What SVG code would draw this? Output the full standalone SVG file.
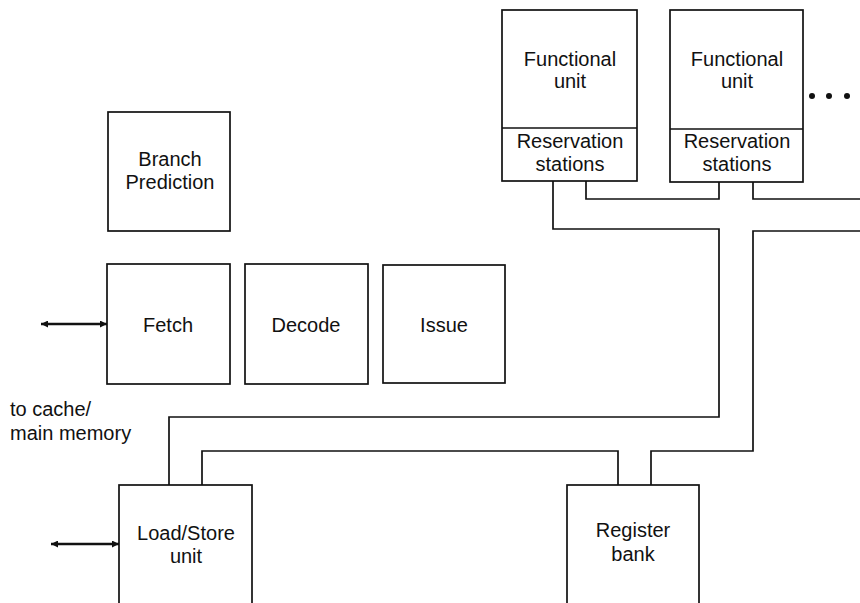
<svg xmlns="http://www.w3.org/2000/svg" width="860" height="603" viewBox="0 0 860 603">
<style>
  .box{fill:#fff;stroke:#111;stroke-width:1.7}
  .ln{fill:none;stroke:#111;stroke-width:1.7}
  .arr{fill:none;stroke:#111;stroke-width:2.4}
  text{font-family:"Liberation Sans",Arial,sans-serif;font-size:20px;fill:#111;text-anchor:middle}
  .l{text-anchor:start}
</style>
<defs>
  <marker id="ah" viewBox="0 0 10 10" refX="10" refY="5" markerWidth="10" markerHeight="7" markerUnits="userSpaceOnUse" orient="auto-start-reverse">
    <path d="M0,0 L10,5 L0,10 z" fill="#111"/>
  </marker>
</defs>
<rect width="860" height="603" fill="#fff"/>
<g id="connectors">
  <path class="ln" d="M586,181 V199 H719 V182"/>
  <path class="ln" d="M753,182 V199 H860"/>
  <path class="ln" d="M553,181 V229 H719 V417 H169 V485"/>
  <path class="ln" d="M860,231 H753 V451 H651 V485"/>
  <path class="ln" d="M202,485 V451 H618 V485"/>
  <line class="arr" x1="41" y1="324" x2="107" y2="324" marker-start="url(#ah)" marker-end="url(#ah)"/>
  <line class="arr" x1="51" y1="544" x2="119" y2="544" marker-start="url(#ah)" marker-end="url(#ah)"/>
</g>
<g id="fu1">
  <rect class="box" x="502" y="10" width="135" height="171"/>
  <line class="ln" x1="502" y1="128" x2="637" y2="128"/>
  <text x="570" y="66">Functional</text>
  <text x="570" y="88">unit</text>
  <text x="570" y="148">Reservation</text>
  <text x="570" y="171">stations</text>
</g>
<g id="fu2">
  <rect class="box" x="670" y="10" width="133" height="172"/>
  <line class="ln" x1="670" y1="129" x2="803" y2="129"/>
  <text x="737" y="66">Functional</text>
  <text x="737" y="88">unit</text>
  <text x="737" y="148">Reservation</text>
  <text x="737" y="171">stations</text>
</g>
<g id="ellipsis">
  <circle cx="812" cy="96" r="3" fill="#111"/>
  <circle cx="829" cy="96" r="3" fill="#111"/>
  <circle cx="847" cy="96" r="3" fill="#111"/>
</g>
<g id="branch">
  <rect class="box" x="108" y="112" width="122" height="119"/>
  <text x="170" y="166">Branch</text>
  <text x="170" y="189">Prediction</text>
</g>
<g id="fetch">
  <rect class="box" x="107" y="264" width="123" height="120"/>
  <text x="168" y="332">Fetch</text>
</g>
<g id="decode">
  <rect class="box" x="245" y="264" width="123" height="120"/>
  <text x="306" y="332">Decode</text>
</g>
<g id="issue">
  <rect class="box" x="383" y="265" width="122" height="118"/>
  <text x="444" y="332">Issue</text>
</g>
<g id="memlabel">
  <text class="l" x="10" y="416">to cache/</text>
  <text class="l" x="10" y="440">main memory</text>
</g>
<g id="loadstore">
  <rect class="box" x="119" y="485" width="133" height="125"/>
  <text x="186" y="540">Load/Store</text>
  <text x="186" y="563">unit</text>
</g>
<g id="regbank">
  <rect class="box" x="567" y="485" width="132" height="125"/>
  <text x="633" y="537">Register</text>
  <text x="633" y="561">bank</text>
</g>
</svg>
